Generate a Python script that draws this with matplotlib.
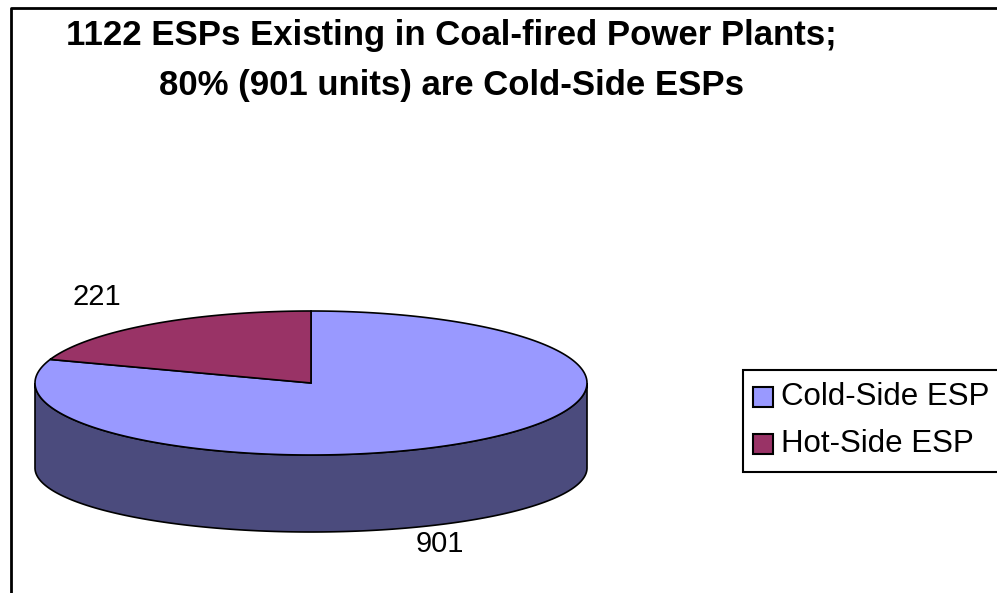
import numpy as np
import matplotlib
matplotlib.use("Agg")
import matplotlib.pyplot as plt
from matplotlib.patches import Polygon, Rectangle

# data
categories = ["Cold-Side ESP", "Hot-Side ESP"]
units = [901, 221]
top_colors = ["#9999ff", "#993366"]
side_colors = ["#4b4b7d", "#5c1f3d"]
title_lines = ["1122 ESPs Existing in Coal-fired Power Plants;",
               "80% (901 units) are Cold-Side ESPs"]

plt.rcParams['font.family'] = ['Liberation Sans', 'DejaVu Sans']

W, H = 997, 593
fig = plt.figure(figsize=(W / 100, H / 100), dpi=100)
ax = fig.add_axes([0, 0, 1, 1])
ax.set_xlim(0, W)
ax.set_ylim(H, 0)
ax.axis('off')

# frame (only top and left visible in the crop)
ax.plot([11, 11, W], [H, 8, 8], color='black', lw=2, solid_capstyle='butt')

# pie geometry in pixels
cx, cy, a, b = 311, 383, 276, 72
cy_bot, b_bot = 468, 64

def top_pt(t):
    return cx + a * np.cos(t), cy - b * np.sin(t)

def bot_pt(t):
    return cx + a * np.cos(t), cy_bot - b_bot * np.sin(t)

total = float(sum(units))
# hot side wedge starts at 12 o'clock, going counter-clockwise
hot_start = np.pi / 2
hot_end = hot_start + 2 * np.pi * units[1] / total
spans = {1: (hot_start, hot_end), 0: (hot_end, hot_start + 2 * np.pi)}

# front wall (lower half of the ellipse) belongs to whichever wedge covers it
t = np.linspace(np.pi, 2 * np.pi, 200)
for i in (0, 1):
    s, e = spans[i]
    mask = ((t >= s) & (t <= e)) | ((t + 2 * np.pi >= s) & (t + 2 * np.pi <= e))
    if not mask.any():
        continue
    ts = t[mask]
    xs, ys = top_pt(ts)
    xb, yb = bot_pt(ts[::-1])
    wall = np.column_stack([np.r_[xs, xb], np.r_[ys, yb]])
    ax.add_patch(Polygon(wall, closed=True, fc=side_colors[i], ec='black', lw=1.2, zorder=2))

# top faces
for i in (0, 1):
    s, e = spans[i]
    ts = np.linspace(s, e, 300)
    xs, ys = top_pt(ts)
    poly = np.column_stack([np.r_[cx, xs], np.r_[cy, ys]])
    ax.add_patch(Polygon(poly, closed=True, fc=top_colors[i], ec='black', lw=1.2, zorder=3))

# value labels
ax.text(97, 297, str(units[1]), fontsize=21, ha='center', va='center', color='black')
ax.text(440, 544, str(units[0]), fontsize=21, ha='center', va='center', color='black')

# title
for k, line in enumerate(title_lines):
    ax.text(451, 36 + 50 * k, line, fontsize=25, fontweight='bold', ha='center',
            va='center', color='black')

# legend box (runs off the right edge)
ax.add_patch(Rectangle((743, 370), 300, 102, fc='white', ec='black', lw=1.5, zorder=4))
rows_y = [397, 444]
for i, cat in enumerate(categories):
    ax.add_patch(Rectangle((753, rows_y[i] - 10), 20, 20, fc=top_colors[i], ec='black', lw=1.5, zorder=5))
    ax.text(781, rows_y[i], cat, fontsize=22.5, ha='left', va='center', color='black', zorder=6)

fig.savefig("out.png", dpi=100, facecolor='white')
